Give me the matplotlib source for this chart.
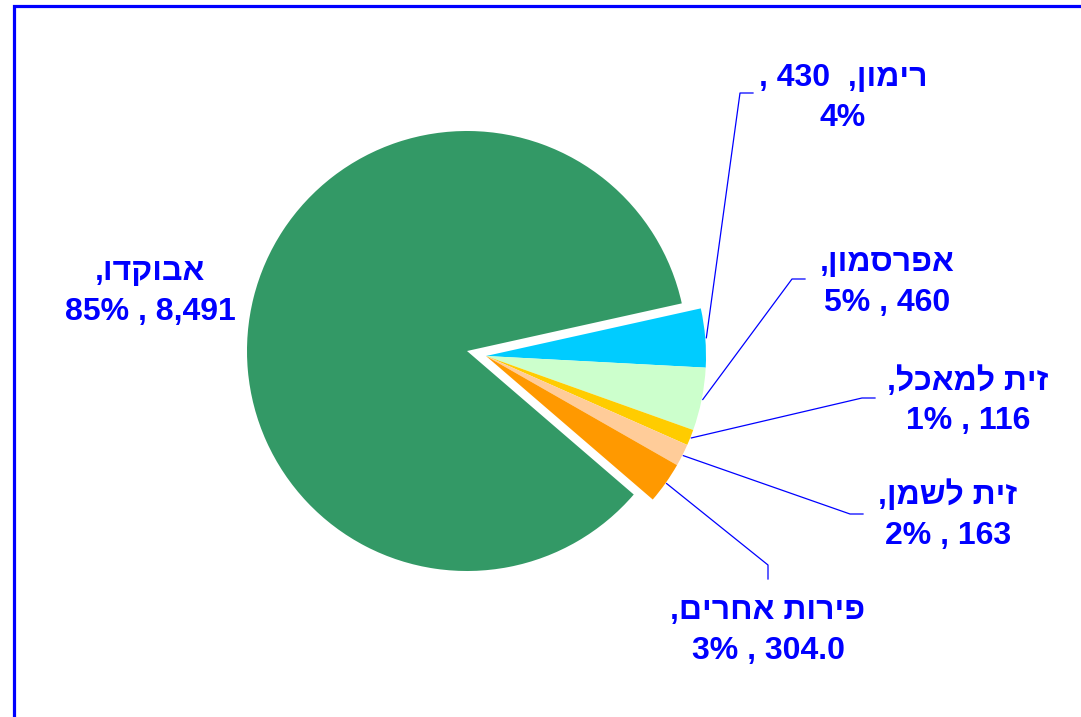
import numpy as np
import matplotlib.pyplot as plt
from matplotlib.patches import Rectangle

plt.rcParams['font.family'] = ['Liberation Sans', 'DejaVu Sans']

# data (clockwise from the top of the exploded group)
names = ['רימון', 'אפרסמון', 'זית למאכל', 'זית לשמן', 'פירות אחרים', 'אבוקדו']
values = [430, 460, 116, 163, 304, 8491]
value_text = ['430', '460', '116', '163', '304.0', '8,491']
colors = ['#00CCFF', '#CCFFCC', '#FFCC00', '#FFCC99', '#FF9900', '#339966']

W, H = 1081, 717
R = 220.0           # pie radius in pixels
CX, CY = 467, 351   # pie centre in pixels (from top-left)

def px(x, y):
    # pixel (from top-left) -> data units
    return (x - CX) / R, (CY - y) / R

def heb(s):
    # matplotlib has no bidi, so lay the hebrew out visually
    return s[::-1]

fig = plt.figure(figsize=(W / 100, H / 100), dpi=100)
ax = fig.add_axes([0, 0, 1, 1])

wedges, _ = ax.pie(values, colors=colors, startangle=12.5, counterclock=False,
                   radius=1.0, wedgeprops=dict(linewidth=0))
ax.set_xlim(-CX / R, (W - CX) / R)
ax.set_ylim(-(H - CY) / R, CY / R)
ax.set_aspect('auto')
ax.axis('off')

# the small slices are pulled out together
shift = np.array(px(486, 356))
for w in wedges[:-1]:
    w.set_center(tuple(shift))

total = sum(values)
pct = [round(v / total * 100) for v in values]

# label layout: (label centre, elbow, line end) in pixels
lab_pos = [(843, 98), (887, 283), (968, 401), (948, 515), (768, 631), (150, 292)]
elbow = [(740, 93), (792, 279), (862, 398), (850, 514), (768, 565), None]
line_end = [(753, 93), (805, 279), (875, 398), (863, 514), (768, 579), None]

lines = [
    ', %s  ,%s\n%d%%' % (value_text[0], heb(names[0]), pct[0]),
]
for i in range(1, 6):
    lines.append('%s\n%d%% , %s' % (heb(names[i] + ','), pct[i], value_text[i]))

blue = '#0000FF'
for i, w in enumerate(wedges):
    x, y = px(*lab_pos[i])
    ax.text(x, y, lines[i], ha='center', va='center', fontsize=23,
            fontweight='bold', color=blue, linespacing=1.42)
    if elbow[i] is None:
        continue
    mid = np.deg2rad((w.theta1 + w.theta2) / 2)
    cx, cy = w.center
    sx, sy = cx + np.cos(mid) * 1.005, cy + np.sin(mid) * 1.005
    ex, ey = px(*elbow[i])
    lx, ly = px(*line_end[i])
    ax.plot([sx, ex, lx], [sy, ey, ly], color=blue, lw=0.9)

# blue frame, cut by the right and bottom edges
fig.patches.append(Rectangle((13.5 / W, -0.1), 1.2, 1.1 - 5.5 / H,
                             transform=fig.transFigure, fill=False,
                             edgecolor=blue, lw=2.3))

fig.savefig('out.png', dpi=100)
